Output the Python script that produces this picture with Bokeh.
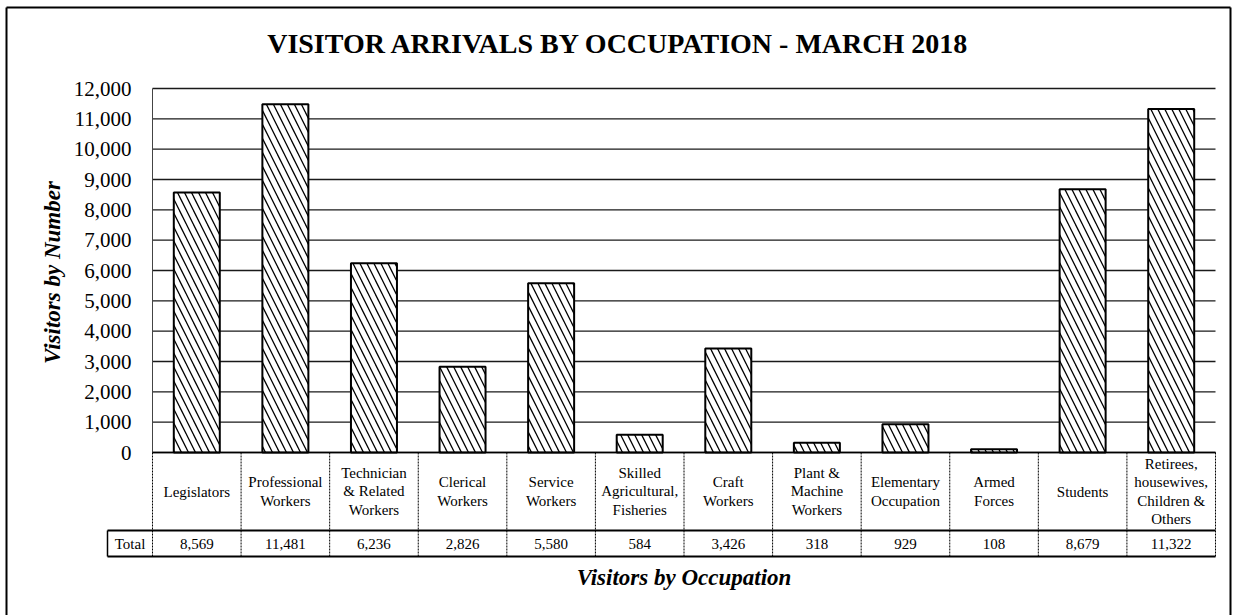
import numpy as np
from bokeh.plotting import figure
from bokeh.models import Range1d
from bokeh.core.properties import value
from bokeh.embed import file_html
from bokeh.resources import INLINE

# ---------------- data ----------------
categories = [
    "Legislators",
    "Professional\nWorkers",
    "Technician\n& Related\nWorkers",
    "Clerical\nWorkers",
    "Service\nWorkers",
    "Skilled\nAgricultural,\nFisheries",
    "Craft\nWorkers",
    "Plant &\nMachine\nWorkers",
    "Elementary\nOccupation",
    "Armed\nForces",
    "Students",
    "Retirees,\nhousewives,\nChildren &\nOthers",
]
visitors = [8569, 11481, 6236, 2826, 5580, 584, 3426, 318, 929, 108, 8679, 11322]
y_ticks = list(range(0, 12001, 1000))
y_tick_labels = [f"{t:,}" for t in y_ticks]
title_text = "VISITOR ARRIVALS BY OCCUPATION - MARCH 2018"
y_title = "Visitors by Number"
x_title = "Visitors by Occupation"
row_label = "Total"

# ---------------- layout (page pixels) ----------------
W, H = 1235, 615
OX, OY = 0, 0
PLOT_L, PLOT_R, PLOT_T, PLOT_B = 152, 1215, 88, 452
n = len(categories)
ppx = (PLOT_R - PLOT_L) / n
ppy = (PLOT_B - PLOT_T) / y_ticks[-1]


def dx(page_x):
    return -0.5 + (page_x - PLOT_L) / ppx


def dy(page_y):
    return (PLOT_B - page_y) / ppy


SERIF = value("Liberation Serif")

p = figure(width=W, height=H,
           x_range=Range1d(dx(OX), dx(OX + W)),
           y_range=Range1d(dy(OY + H), dy(OY)),
           x_axis_type=None, y_axis_type=None,
           output_backend="svg", toolbar_location=None, min_border=0)
p.outline_line_color = None
p.grid.visible = False
p.background_fill_color = "white"
p.border_fill_color = "white"

# outer border (bottom cut off like the reference)
BL, BT, BR = 6, 7, 1230
p.segment(x0=[dx(BL), dx(BL), dx(BR)],
          y0=[dy(H + 20), dy(BT), dy(BT)],
          x1=[dx(BL), dx(BR), dx(BR)],
          y1=[dy(BT), dy(BT), dy(H + 20)],
          line_color="black", line_width=2)

# gridlines
xl, xr = -0.5, n - 0.5
p.segment(x0=[xl] * len(y_ticks), x1=[xr] * len(y_ticks), y0=y_ticks, y1=y_ticks,
          line_color="#1a1a1a", line_width=1.4)
# left plot border
p.segment(x0=[xl], x1=[xl], y0=[0], y1=[y_ticks[-1]], line_color="#444444", line_width=1)

# bars
idx = np.arange(n)
p.vbar(x=idx, top=visitors, bottom=0, width=46 / ppx,
       fill_color="white", line_color="black", line_width=2,
       hatch_pattern="\\", hatch_color="black", hatch_weight=1.3, hatch_scale=14)

# y tick labels
p.text(x=[dx(131)] * len(y_ticks), y=y_ticks, text=y_tick_labels,
       text_align="right", text_baseline="middle",
       text_font=SERIF, text_font_size="21px", text_color="black")

# title
p.text(x=[dx(618)], y=[dy(43)], text=[title_text], text_align="center",
       text_baseline="middle", text_font=SERIF, text_font_size="28px",
       text_font_style="bold", text_color="black")

# y axis title
p.text(x=[dx(52)], y=[dy(272)], text=[y_title], angle=np.pi / 2,
       text_align="center", text_baseline="middle", text_font=SERIF,
       text_font_size="23px", text_font_style="bold italic", text_color="black")

# ---------------- data table ----------------
row1_bot = dy(530)
row2_bot = dy(556)
tot_left = dx(107)
# vertical dividers (dashed)
vx = [i - 0.5 for i in range(n + 1)]
p.segment(x0=vx, x1=vx, y0=[0] * len(vx), y1=[row2_bot] * len(vx),
          line_color="black", line_width=1, line_dash="2 1")
# total cell left border
p.segment(x0=[tot_left], x1=[tot_left], y0=[row1_bot], y1=[row2_bot],
          line_color="black", line_width=1.5)
# horizontal lines
p.segment(x0=[xl, tot_left, tot_left], x1=[xr, xr, xr],
          y0=[0, row1_bot, row2_bot], y1=[0, row1_bot, row2_bot],
          line_color="black", line_width=[1.5, 2, 2])

# category labels
p.text(x=idx, y=[dy(491)] * n, text=categories, text_align="center",
       text_baseline="middle", text_font=SERIF, text_font_size="15px",
       text_line_height=1.15, text_color="black")
# totals row
p.text(x=[(tot_left + xl) / 2], y=[dy(543)], text=[row_label], text_align="center",
       text_baseline="middle", text_font=SERIF, text_font_size="15px", text_color="black")
p.text(x=idx, y=[dy(543)] * n, text=[f"{v:,}" for v in visitors], text_align="center",
       text_baseline="middle", text_font=SERIF, text_font_size="15px", text_color="black")

# x axis title
p.text(x=[(xl + xr) / 2], y=[dy(577)], text=[x_title], text_align="center",
       text_baseline="middle", text_font=SERIF, text_font_size="23px",
       text_font_style="bold italic", text_color="black")

open("out.html", "w").write(file_html(p, INLINE))
